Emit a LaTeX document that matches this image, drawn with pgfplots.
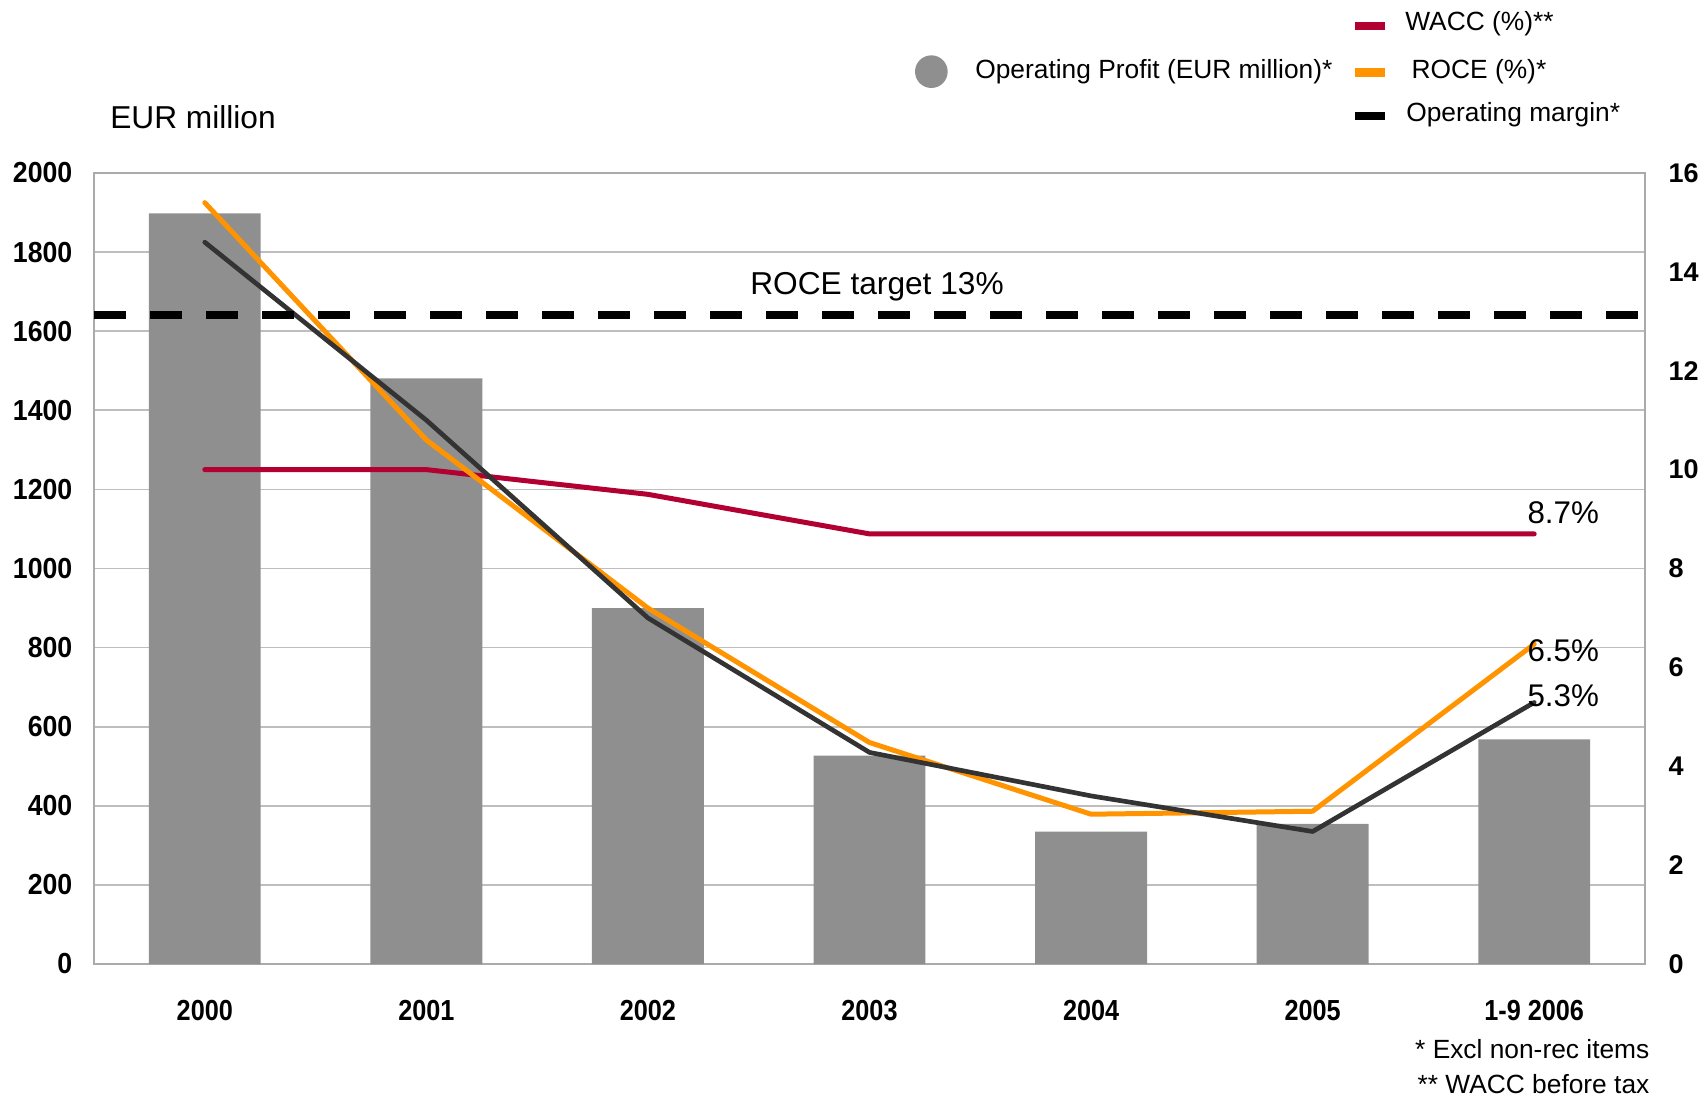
\documentclass[border=0pt]{standalone}
\usepackage{pgfplots}
\pgfplotsset{compat=1.18}
\usepackage{fontspec}
\setmainfont{Liberation Sans}
\newfontfamily\condA[FakeStretch=0.92]{Liberation Sans}
\newfontfamily\condB[FakeStretch=0.87]{Liberation Sans}
\definecolor{barcol}{RGB}{143,143,143}
\definecolor{wacc}{RGB}{178,0,50}
\definecolor{roce}{RGB}{255,148,0}
\definecolor{opm}{RGB}{51,51,51}
\definecolor{gridcol}{RGB}{190,190,190}
\definecolor{axiscol}{RGB}{170,170,170}
\begin{document}
\begin{tikzpicture}
\useasboundingbox (-28.2pt,-39.9pt) rectangle (482.4pt,289.2pt);
\begin{axis}[
  at={(0pt,0pt)}, anchor=south west, scale only axis,
  width=465.3pt, height=237.3pt,
  xmin=-0.5, xmax=6.5, ymin=0, ymax=2000,
  xtick={0,...,6},
  xticklabels={2000,2001,2002,2003,2004,2005,1-9 2006},
  ytick={0,200,...,2000},
  ymajorgrids,
  grid style={draw=gridcol, line width=0.5pt},
  axis line style={draw=axiscol, line width=0.5pt},
  major tick length=0pt,
  /pgf/number format/assume math mode=true,
  /pgf/number format/set thousands separator={},
  yticklabel style={anchor=east, inner sep=0pt, xshift=-6.3pt,
    font=\condA\bfseries\fontsize{8.7}{10}\selectfont},
  xticklabel style={anchor=north, inner sep=0pt, yshift=-10.8pt,
    font=\condB\bfseries\fontsize{8.7}{10}\selectfont},
]
\addplot[ybar, bar width=0.505, bar shift=0pt, fill=barcol, draw=none]
  coordinates {(0,1898) (1,1481) (2,900) (3,527) (4,335) (5,354) (6,568)};
\end{axis}
\begin{axis}[
  at={(0pt,0pt)}, anchor=south west, scale only axis,
  width=465.3pt, height=237.3pt,
  xmin=-0.5, xmax=6.5, ymin=0, ymax=16,
  axis y line*=right, axis x line=none,
  ytick={0,2,...,16},
  axis line style={draw=axiscol, line width=0.5pt},
  major tick length=0pt,
  /pgf/number format/assume math mode=true,
  yticklabel style={anchor=west, inner sep=0pt, xshift=6.9pt,
    font=\bfseries\fontsize{8.1}{10}\selectfont},
]
\addplot[wacc, line width=1.5pt, line cap=round, line join=round]
  coordinates {(0,10.0) (1,10.0) (2,9.5) (3,8.7) (4,8.7) (5,8.7) (6,8.7)};
\addplot[roce, line width=1.5pt, line cap=round, line join=round]
  coordinates {(0,15.4) (1,10.6) (2,7.2) (3,4.48) (4,3.03) (5,3.09) (6,6.47)};
\addplot[opm, line width=1.4pt, line cap=round, line join=round]
  coordinates {(0,14.6) (1,11.0) (2,7.0) (3,4.28) (4,3.4) (5,2.68) (6,5.29)};
\addplot[black, line width=2.4pt, dash pattern=on 9.6pt off 7.2pt]
  coordinates {(-0.5,13.13) (6.5,13.13)};
\node[anchor=west, inner sep=0pt, font=\fontsize{9.4}{11}\selectfont] at (axis cs:5.967,9.12) {8.7\%};
\node[anchor=west, inner sep=0pt, font=\fontsize{9.4}{11}\selectfont] at (axis cs:5.967,6.33) {6.5\%};
\node[anchor=west, inner sep=0pt, font=\fontsize{9.4}{11}\selectfont] at (axis cs:5.967,5.43) {5.3\%};
\end{axis}
% texts
\node[anchor=west, inner sep=0pt, font=\fontsize{9.5}{11}\selectfont] at (4.7pt,254pt) {EUR million};
\node[inner sep=0pt, font=\fontsize{9.5}{11}\selectfont] at (234.9pt,203.2pt) {ROCE target 13\%};
\node[anchor=east, inner sep=0pt, font=\fontsize{7.9}{9.5}\selectfont] at (466.8pt,-25.4pt) {* Excl non-rec items};
\node[anchor=east, inner sep=0pt, font=\fontsize{7.9}{9.5}\selectfont] at (466.8pt,-36.1pt) {** WACC before tax};
% legend
\fill[barcol] (251.2pt,267.7pt) circle (4.9pt);
\node[anchor=west, inner sep=0pt, font=\fontsize{7.9}{9.5}\selectfont] at (264.2pt,267.7pt) {Operating Profit (EUR million)*};
\draw[wacc, line width=2.5pt] (378.2pt,281.4pt) -- (387.3pt,281.4pt);
\node[anchor=west, inner sep=0pt, font=\fontsize{7.9}{9.5}\selectfont] at (393.2pt,282pt) {WACC (\%)**};
\draw[roce, line width=2.5pt] (378.2pt,267.4pt) -- (387.3pt,267.4pt);
\node[anchor=west, inner sep=0pt, font=\fontsize{7.9}{9.5}\selectfont] at (395.1pt,267.7pt) {ROCE (\%)*};
\draw[black, line width=2.5pt] (378.2pt,254.4pt) -- (387.3pt,254.4pt);
\node[anchor=west, inner sep=0pt, font=\fontsize{7.9}{9.5}\selectfont] at (393.5pt,254.7pt) {Operating margin*};
\end{tikzpicture}
\end{document}
